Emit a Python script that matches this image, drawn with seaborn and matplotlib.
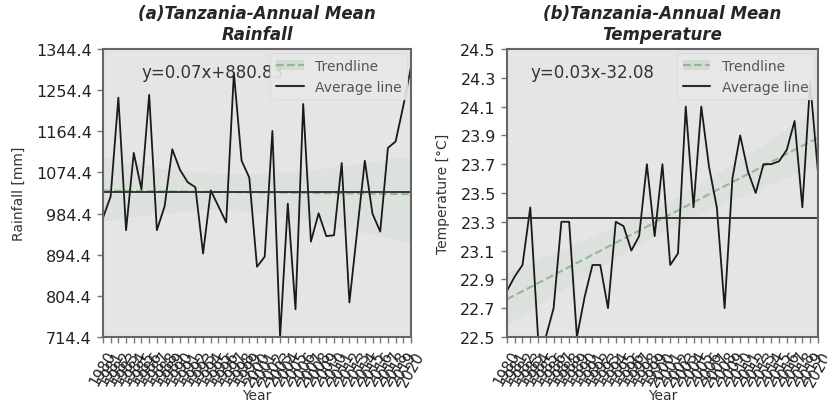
import numpy as np
import pandas as pd
import seaborn as sns
import matplotlib.pyplot as plt
from matplotlib.lines import Line2D
from matplotlib.patches import Patch

# values
years = list(range(1980, 2021))
rainfall = [975, 1022, 1238, 948, 1117, 1037, 1244, 948, 1000, 1125,
            1080, 1053, 1042, 897, 1035, 1000, 965, 1292, 1100, 1063,
            868, 890, 1165, 714.4, 1006, 775, 1224, 923, 985, 935,
            937, 1095, 790, 945, 1100, 984, 945, 1128, 1142, 1220,
            1305]
temperature = [22.82, 22.92, 23.00, 23.40, 22.50, 22.50, 22.70, 23.30, 23.30, 22.50,
               22.78, 23.00, 23.00, 22.70, 23.30, 23.27, 23.10, 23.20, 23.70, 23.20,
               23.70, 23.00, 23.08, 24.10, 23.40, 24.10, 23.68, 23.40, 22.70, 23.60,
               23.90, 23.65, 23.50, 23.70, 23.70, 23.72, 23.80, 24.00, 23.40, 24.27,
               23.65]
rain_eq = "y=0.07x+880.83"
temp_eq = "y=0.03x-32.08"

df = pd.DataFrame({'Year': years, 'Rainfall': rainfall, 'Temperature': temperature})

sns.set_style('ticks', {'axes.facecolor': '#e5e5e5', 'axes.edgecolor': '#666666'})
plt.rcParams['font.family'] = ['DejaVu Sans']

fig = plt.figure(figsize=(8.27, 4.14), dpi=100)
ax1 = fig.add_axes([0.1245, 0.1836, 0.3725, 0.6957])
ax2 = fig.add_axes([0.613, 0.1836, 0.376, 0.6957])

trend_color = '#8fbc8f'


def draw_panel(ax, col, title, ylabel, eq, eq_x, ylim, yticks, ylabels):
    """ one panel: series, regression trend and the mean line """
    sns.regplot(data=df, x='Year', y=col, ax=ax, scatter=False, ci=95, seed=0,
                color=trend_color, line_kws={'ls': '--', 'lw': 1.5})
    for c in ax.collections:
        c.set_alpha(0.09)
    sns.lineplot(data=df, x='Year', y=col, ax=ax, color='#1a1a1a', lw=1.3)
    ax.axhline(df[col].mean(), color='#2b2b2b', lw=1.3)

    ax.set_xlim(years[0], years[-1])
    ax.set_ylim(*ylim)
    ax.set_yticks(yticks)
    ax.set_yticklabels(ylabels, fontsize=11.5, color='#222222')
    ax.set_xticks(years)
    ax.set_xticklabels(years, rotation=60, fontsize=10.5, color='#222222')
    ax.tick_params(length=4, width=1, color='#777777', pad=4)
    for s in ax.spines.values():
        s.set_linewidth(1.5)

    ax.set_title(title, fontsize=12, fontweight='bold', fontstyle='italic', pad=7)
    ax.set_xlabel('Year', fontsize=10, color='#333333', labelpad=0)
    ax.set_ylabel(ylabel, fontsize=10, color='#333333', labelpad=7)
    ax.text(eq_x, 0.92, eq, transform=ax.transAxes, fontsize=12, color='#333333',
            va='center', ha='left')

    handles = [(Patch(facecolor=trend_color, alpha=0.25, edgecolor='none'),
                Line2D([], [], color=trend_color, ls='--', lw=1.5)),
               Line2D([], [], color='#2b2b2b', lw=1.5)]
    ax.legend(handles, ['Trendline', 'Average line'], loc='upper right',
              fontsize=10, frameon=True, framealpha=0.9, facecolor='#e8e8e8',
              edgecolor='#dddddd', labelcolor='#555555', borderaxespad=0.3)


rain_ticks = [714.4 + 90 * k for k in range(8)]
draw_panel(ax1, 'Rainfall', '(a)Tanzania-Annual Mean\nRainfall', 'Rainfall [mm]', rain_eq, 0.126,
           (714.4, 1344.4), rain_ticks, [f'{t:.1f}' for t in rain_ticks])

temp_ticks = [22.5 + 0.2 * k for k in range(11)]
draw_panel(ax2, 'Temperature', '(b)Tanzania-Annual Mean\nTemperature', 'Temperature [\u00b0C]', temp_eq, 0.076,
           (22.5, 24.5), temp_ticks, [f'{t:.1f}' for t in temp_ticks])

fig.savefig('out.png', dpi=100)
